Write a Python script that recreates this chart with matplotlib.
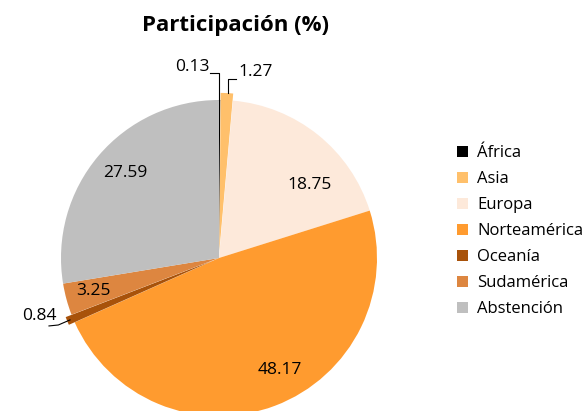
import matplotlib
matplotlib.use("Agg")
import matplotlib.pyplot as plt
from matplotlib.patches import Patch

plt.rcParams['font.family'] = ['Open Sans', 'DejaVu Sans']

# datos
regiones = ['África', 'Asia', 'Europa', 'Norteamérica', 'Oceanía', 'Sudamérica', 'Abstención']
participacion = [0.13, 1.27, 18.75, 48.17, 0.84, 3.25, 27.59]
colores = ['#000000', '#FFC06B', '#FDE9DA', '#FF9B2F', '#A8520A', '#DD8640', '#BFBFBF']
separar = [0, 0.045, 0, 0, 0.04, 0, 0]

fig = plt.figure(figsize=(5.86, 4.11), dpi=100)
ax = fig.add_axes([61 / 586, -5 / 411, 316 / 586, 316 / 411])

wedges, _ = ax.pie(participacion, colors=colores, startangle=90, counterclock=False,
                   explode=separar, wedgeprops=dict(linewidth=0))
for w in wedges:
    w.set_clip_on(False)
ax.set_xlim(-1, 1)
ax.set_ylim(-1, 1)
ax.set_aspect('auto')
ax.axis('off')

fs = 12.5
# etiquetas dentro de las porciones
ax.text(0.576, 0.462, f'{participacion[2]:.2f}', ha='center', va='center', fontsize=fs)
ax.text(0.386, -0.709, f'{participacion[3]:.2f}', ha='center', va='center', fontsize=fs)
ax.text(-0.595, 0.538, f'{participacion[6]:.2f}', ha='center', va='center', fontsize=fs)
ax.text(-0.797, -0.209, f'{participacion[5]:.2f}', ha='center', va='center', fontsize=fs)

# etiquetas con líneas guía
ax.plot([0, 0, -0.057], [1.0, 1.173, 1.173], color='black', lw=0.8, clip_on=False)
ax.text(-0.06, 1.21, f'{participacion[0]:.2f}', ha='right', va='center', fontsize=fs)

ax.plot([0.055, 0.055, 0.108], [1.044, 1.133, 1.133], color='black', lw=0.8, clip_on=False)
ax.text(0.12, 1.18, f'{participacion[1]:.2f}', ha='left', va='center', fontsize=fs)

ax.plot([-0.943, -1.017, -1.076], [-0.392, -0.424, -0.43], color='black', lw=0.8, clip_on=False)
ax.text(-1.03, -0.37, f'{participacion[4]:.2f}', ha='right', va='center', fontsize=fs)

fig.text(236 / 586, 1 - 26 / 411, 'Participación (%)', ha='center', va='center',
         fontsize=16, fontweight='bold')

handles = [Patch(facecolor=c, edgecolor='none') for c in colores]
fig.legend(handles, regiones, loc='upper left', bbox_to_anchor=(457 / 586, 1 - 145 / 411),
           frameon=False, fontsize=12, handlelength=0.65, handleheight=0.65,
           handletextpad=0.55, labelspacing=0.6, borderaxespad=0, borderpad=0)

fig.savefig('out.png', dpi=100)
